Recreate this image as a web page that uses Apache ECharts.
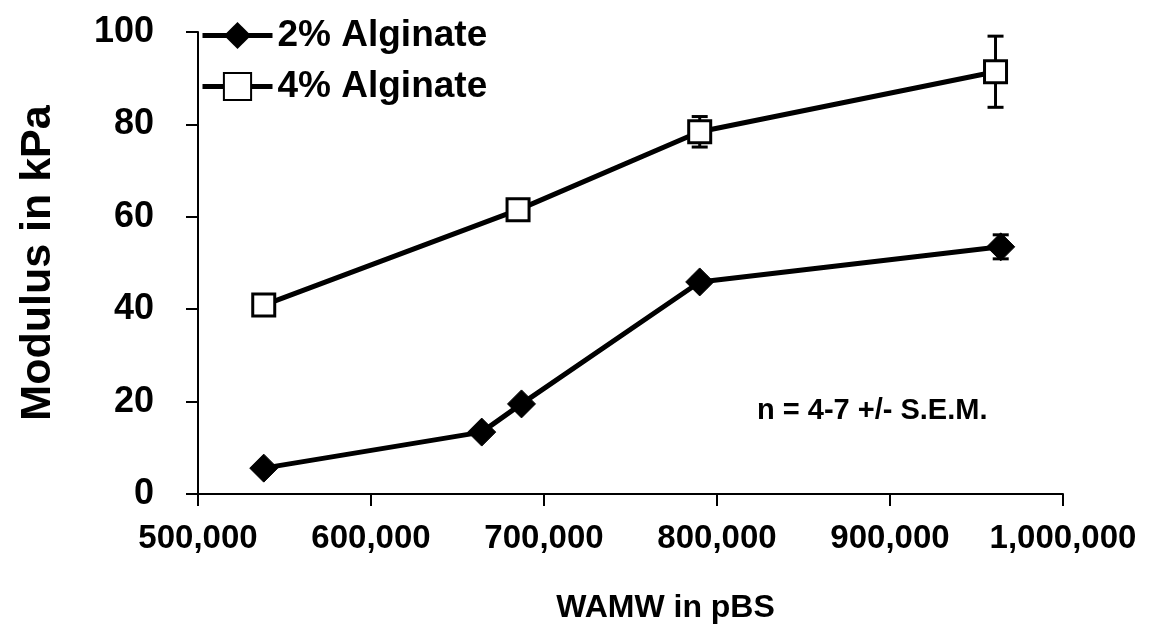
<!DOCTYPE html>
<html>
<head>
<meta charset="utf-8">
<script src="https://cdn.jsdelivr.net/npm/echarts@6/dist/echarts.min.js"></script>
<style>
  html, body { margin: 0; padding: 0; background: #fff; }
  #chart { width: 1149px; height: 639px; }
</style>
</head>
<body>
<div id="chart"></div>
<script>
// values
const seriesNames = ['2% Alginate', '4% Alginate']
const wamw2 = [538000, 664000, 687000, 790000, 964000]
const modulus2 = [5.6, 13.4, 19.5, 45.9, 53.5]
const sem2 = [0.6, 0.6, 0.8, 1.0, 2.6]
const wamw4 = [538000, 685000, 790000, 961000]
const modulus4 = [40.9, 61.5, 78.4, 91.4]
const sem4 = [1.2, 1.0, 3.3, 7.7]
const xTicks = [500000, 1000000, 100000]  // min, max, step
const yTicks = [0, 100, 20]

const font = 'Liberation Sans, Arial, sans-serif'

const pairs = (xs, ys) => xs.map((x, i) => [x, ys[i]])
const bars = (xs, ys, es) => xs.map((x, i) => [x, ys[i] - es[i], ys[i] + es[i]])

const errorBar = (name, data) => ({
  name: name,
  type: 'custom',
  z: 1,
  silent: true,
  data: data,
  renderItem: (params, api) => {
    const lo = api.coord([api.value(0), api.value(1)])
    const hi = api.coord([api.value(0), api.value(2)])
    const w = 8
    const style = { stroke: '#000', lineWidth: 3 }
    return {
      type: 'group',
      children: [
        { type: 'line', shape: { x1: lo[0], y1: lo[1], x2: hi[0], y2: hi[1] }, style },
        { type: 'line', shape: { x1: lo[0] - w, y1: lo[1], x2: lo[0] + w, y2: lo[1] }, style },
        { type: 'line', shape: { x1: hi[0] - w, y1: hi[1], x2: hi[0] + w, y2: hi[1] }, style }
      ]
    }
  }
})

const chart = echarts.init(document.getElementById('chart'))
chart.setOption({
  animation: false,
  textStyle: { fontFamily: font, fontWeight: 'bold', color: '#000' },
  grid: { left: 198, right: 86, top: 32, bottom: 145 },
  legend: {
    orient: 'vertical',
    left: 195,
    top: 12,
    itemWidth: 70,
    itemHeight: 34,
    itemGap: 14,
    data: seriesNames,
    lineStyle: { width: 5, color: '#000' },
    textStyle: { fontFamily: font, fontWeight: 'bold', fontSize: 37, color: '#000' }
  },
  xAxis: {
    type: 'value',
    min: xTicks[0],
    max: xTicks[1],
    interval: xTicks[2],
    name: 'WAMW in pBS',
    nameLocation: 'middle',
    nameGap: 98,
    nameTextStyle: { fontFamily: font, fontWeight: 'bold', fontSize: 32, color: '#000', padding: [0, 0, 0, 70] },
    splitLine: { show: false },
    axisLine: { lineStyle: { color: '#000', width: 2 } },
    axisTick: { length: 12, lineStyle: { color: '#000', width: 2 } },
    axisLabel: {
      margin: 28,
      fontFamily: font, fontWeight: 'bold', fontSize: 33, color: '#000',
      formatter: v => v.toLocaleString('en-US')
    }
  },
  yAxis: {
    type: 'value',
    min: yTicks[0],
    max: yTicks[1],
    interval: yTicks[2],
    name: 'Modulus in kPa',
    nameLocation: 'middle',
    nameRotate: 90,
    nameGap: 138,
    nameTextStyle: { fontFamily: font, fontWeight: 'bold', fontSize: 43, color: '#000' },
    splitLine: { show: false },
    axisLine: { show: true, lineStyle: { color: '#000', width: 2 } },
    axisTick: { show: true, length: 12, lineStyle: { color: '#000', width: 2 } },
    axisLabel: { margin: 44, fontFamily: font, fontWeight: 'bold', fontSize: 36, color: '#000' }
  },
  graphic: [{
    type: 'text',
    left: 757,
    top: 396,
    style: { text: 'n = 4-7 +/- S.E.M.', font: 'bold 29px ' + font, fill: '#000' }
  }],
  series: [
    errorBar('err2', bars(wamw2, modulus2, sem2)),
    errorBar('err4', bars(wamw4, modulus4, sem4)),
    {
      name: seriesNames[0],
      type: 'line',
      z: 3,
      data: pairs(wamw2, modulus2),
      symbol: 'diamond',
      symbolSize: 28,
      lineStyle: { color: '#000', width: 5 },
      itemStyle: { color: '#000', borderColor: '#000' }
    },
    {
      name: seriesNames[1],
      type: 'line',
      z: 3,
      data: pairs(wamw4, modulus4),
      symbol: 'rect',
      symbolSize: 22,
      lineStyle: { color: '#000', width: 5 },
      itemStyle: { color: '#fff', borderColor: '#000', borderWidth: 3 }
    }
  ]
})
</script>
</body>
</html>
